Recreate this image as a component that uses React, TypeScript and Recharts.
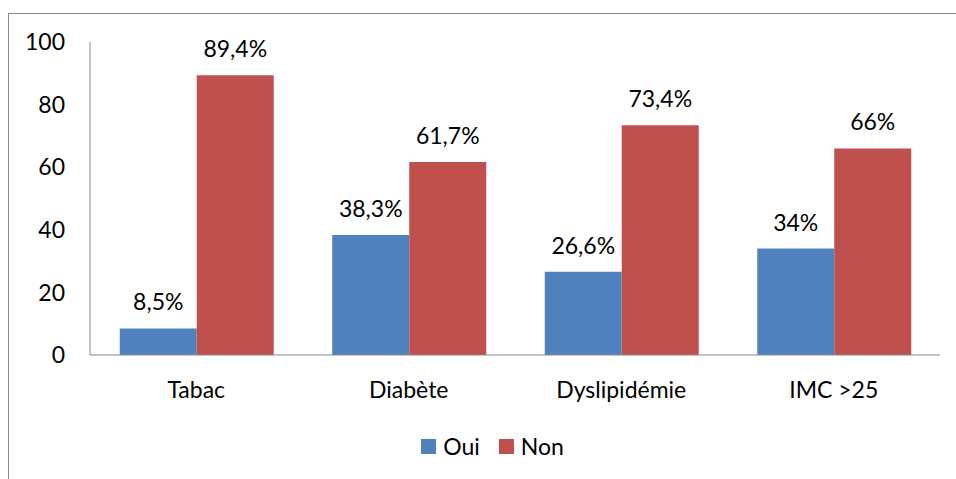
import * as React from "react";
import { Bar, BarChart, LabelList, Legend, XAxis, YAxis } from "recharts";

const categories = ["Tabac", "Diabète", "Dyslipidémie", "IMC >25"];
const ouiValues = [8.5, 38.3, 26.6, 34];
const nonValues = [89.4, 61.7, 73.4, 66];
const yTicks = [0, 20, 40, 60, 80, 100];
const seriesNames = ["Oui", "Non"];
const seriesColors = ["#4F81BD", "#C0504D"];

const data = categories.map((name, i) => ({
  name,
  oui: ouiValues[i],
  non: nonValues[i],
}));

const FONT = "Lato, 'Open Sans', sans-serif";
const AXIS = "#898989";
const FS = 23;

const fmt = (v: any) => String(v).replace(".", ",") + "%";

function LegendContent() {
  return (
    <div
      style={{
        display: "flex",
        justifyContent: "center",
        alignItems: "center",
        gap: 19,
        paddingLeft: 36,
        fontFamily: FONT,
        fontSize: FS,
        color: "#000",
      }}
    >
      {seriesNames.map((n, i) => (
        <div key={n} style={{ display: "flex", alignItems: "center", gap: 7 }}>
          <span style={{ width: 15, height: 15, background: seriesColors[i], display: "inline-block" }} />
          <span>{n}</span>
        </div>
      ))}
    </div>
  );
}

export default function App() {
  return (
    <div style={{ position: "relative", width: 956, height: 479, background: "#fff" }}>
      <style>{`body{margin:0;overflow:hidden}`}</style>
      <div
        style={{
          position: "absolute",
          left: 8,
          top: 13,
          width: 960,
          height: 480,
          borderLeft: `1px solid ${AXIS}`,
          borderTop: `1px solid ${AXIS}`,
        }}
      />
      <div style={{ position: "absolute", left: 9, top: 14 }}>
        <BarChart
          width={947}
          height={465}
          data={data}
          margin={{ top: 28, right: 16, left: 0, bottom: 17 }}
          barCategoryGap="14%"
          barGap={0}
          style={{ fontFamily: FONT }}
        >
          <XAxis
            dataKey="name"
            height={77}
            tickSize={0}
            tickMargin={27}
            stroke={AXIS}
            tick={{ fill: "#000", fontSize: FS }}
          />
          <YAxis
            width={81}
            domain={[0, 100]}
            ticks={yTicks}
            tickSize={0}
            tickMargin={25}
            stroke={AXIS}
            tick={{ fill: "#000", fontSize: FS }}
          />
          <Legend verticalAlign="bottom" height={30} content={<LegendContent />} />
          <Bar dataKey="oui" name={seriesNames[0]} fill={seriesColors[0]} isAnimationActive={false}>
            <LabelList
              dataKey="oui"
              position="top"
              offset={18}
              formatter={fmt}
              style={{ fill: "#000", fontSize: FS }}
            />
          </Bar>
          <Bar dataKey="non" name={seriesNames[1]} fill={seriesColors[1]} isAnimationActive={false}>
            <LabelList
              dataKey="non"
              position="top"
              offset={18}
              formatter={fmt}
              style={{ fill: "#000", fontSize: FS }}
            />
          </Bar>
        </BarChart>
      </div>
    </div>
  );
}
